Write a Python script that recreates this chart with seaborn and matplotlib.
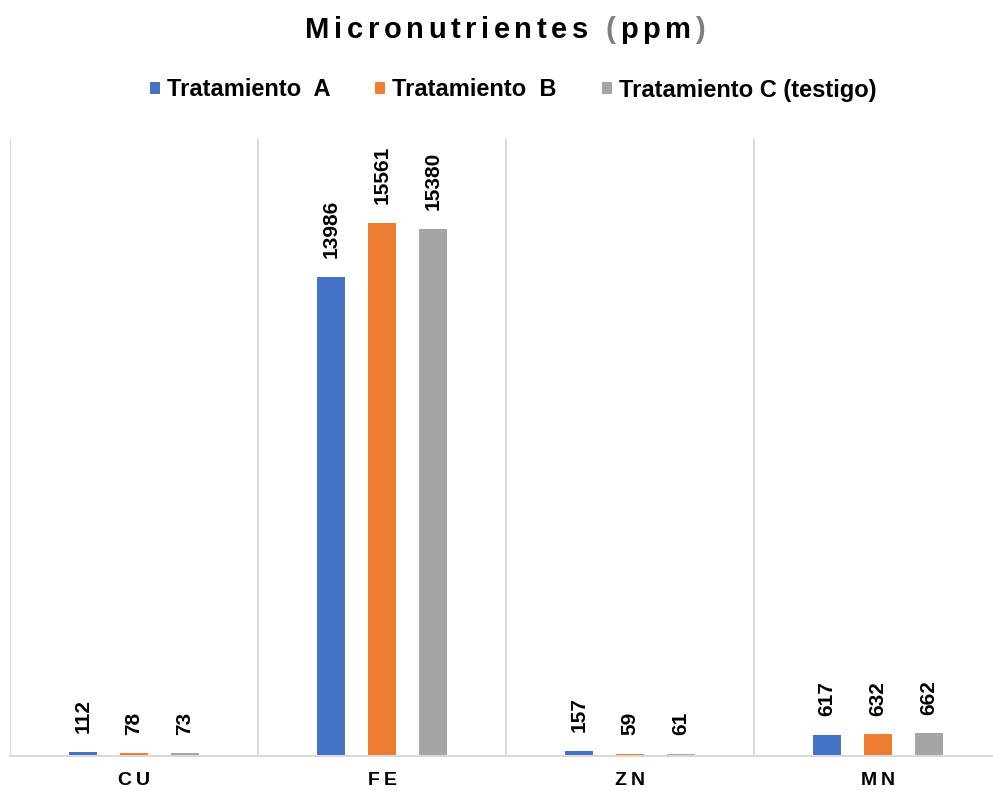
import matplotlib
matplotlib.use("Agg")
import matplotlib.pyplot as plt
from matplotlib.patches import Patch
import seaborn as sns
import pandas as pd

# Micronutrient content (ppm) per element and treatment
elements = ["CU", "FE", "ZN", "MN"]
treatments = ["Tratamiento  A", "Tratamiento  B", "Tratamiento C (testigo)"]
trat_a = [112, 13986, 157, 617]
trat_b = [78, 15561, 59, 632]
trat_c = [73, 15380, 61, 662]
colors = ["#4472C4", "#ED7D31", "#A5A5A5"]
title = "Micronutrientes (ppm)"

df = pd.DataFrame({
    "element": elements * 3,
    "treatment": [treatments[0]] * 4 + [treatments[1]] * 4 + [treatments[2]] * 4,
    "ppm": trat_a + trat_b + trat_c,
})

sns.set_theme(style="white")
plt.rcParams["font.family"] = ["Liberation Sans", "DejaVu Sans"]
plt.rcParams["text.color"] = "black"
plt.rcParams["xtick.color"] = "black"

W, H = 993, 791
fig = plt.figure(figsize=(W / 100, H / 100), dpi=100)
ax = fig.add_axes([10 / W, 1 - 756 / H, 992 / W, 617 / H])

sns.barplot(data=df, x="element", y="ppm", hue="treatment",
            order=elements, hue_order=treatments, palette=colors,
            width=0.617, gap=0.47, saturation=1, legend=False, ax=ax,
            edgecolor="none")

ax.set_xlim(-0.5, 3.5)
ax.set_ylim(0, 18000)
ax.set_yticks([])
ax.set_xlabel("")
ax.set_ylabel("")

# separators between categories
ax.set_xticks([-0.5, 0.5, 1.5, 2.5, 3.5], minor=True)
ax.grid(which="minor", axis="x", color="#D9D9D9", linewidth=1.5)
ax.tick_params(which="both", length=0)
ax.set_xticks(range(len(elements)))
ax.set_xticklabels([])

for side in ["top", "left", "right"]:
    ax.spines[side].set_visible(False)
ax.spines["bottom"].set_color("#D9D9D9")
ax.spines["bottom"].set_linewidth(1.5)

# value labels above each bar
for cont in ax.containers:
    ax.bar_label(cont, labels=[f"{v:.0f}" for v in cont.datavalues],
                 rotation=90, padding=13.5, fontsize=15, fontweight="bold",
                 color="black")

handles = [Patch(facecolor=c, edgecolor="none") for c in colors]
fig.legend(handles, treatments, loc="center", bbox_to_anchor=(513 / W, 1 - 90 / H),
           ncol=3, frameon=False, handlelength=0.42, handleheight=0.42,
           handletextpad=0.3, columnspacing=1.9,
           prop={"size": 17, "weight": "bold"})

renderer = fig.canvas.get_renderer()


def ink_width(s, size):
    t = fig.text(0, 0, s, fontsize=size, fontweight="bold")
    w = t.get_window_extent(renderer).width
    t.remove()
    return w


def spaced_text(xc, y, s, size, track, color_of=lambda ch: "black"):
    """Draw s centred at pixel xc with baseline at pixel y and extra letter spacing."""
    total = ink_width(s, size) + track * (len(s) - 1)
    x0 = xc - total / 2
    for k, ch in enumerate(s):
        if ch == " ":
            continue
        left = ink_width(s[:k + 1], size) - ink_width(ch, size) + k * track
        fig.text((x0 + left) / W, 1 - y / H, ch, fontsize=size, fontweight="bold",
                 ha="left", va="baseline", color=color_of(ch))


# chart title with gray parentheses
spaced_text(505, 38, title, 21, 4.6,
            color_of=lambda ch: "#7F7F7F" if ch in "()" else "black")

# category labels under each group
for i, name in enumerate(elements):
    xc = ax.transData.transform((i, 0))[0]
    spaced_text(xc, 785, name, 14, 4.5)

fig.savefig("out.png", dpi=100)
